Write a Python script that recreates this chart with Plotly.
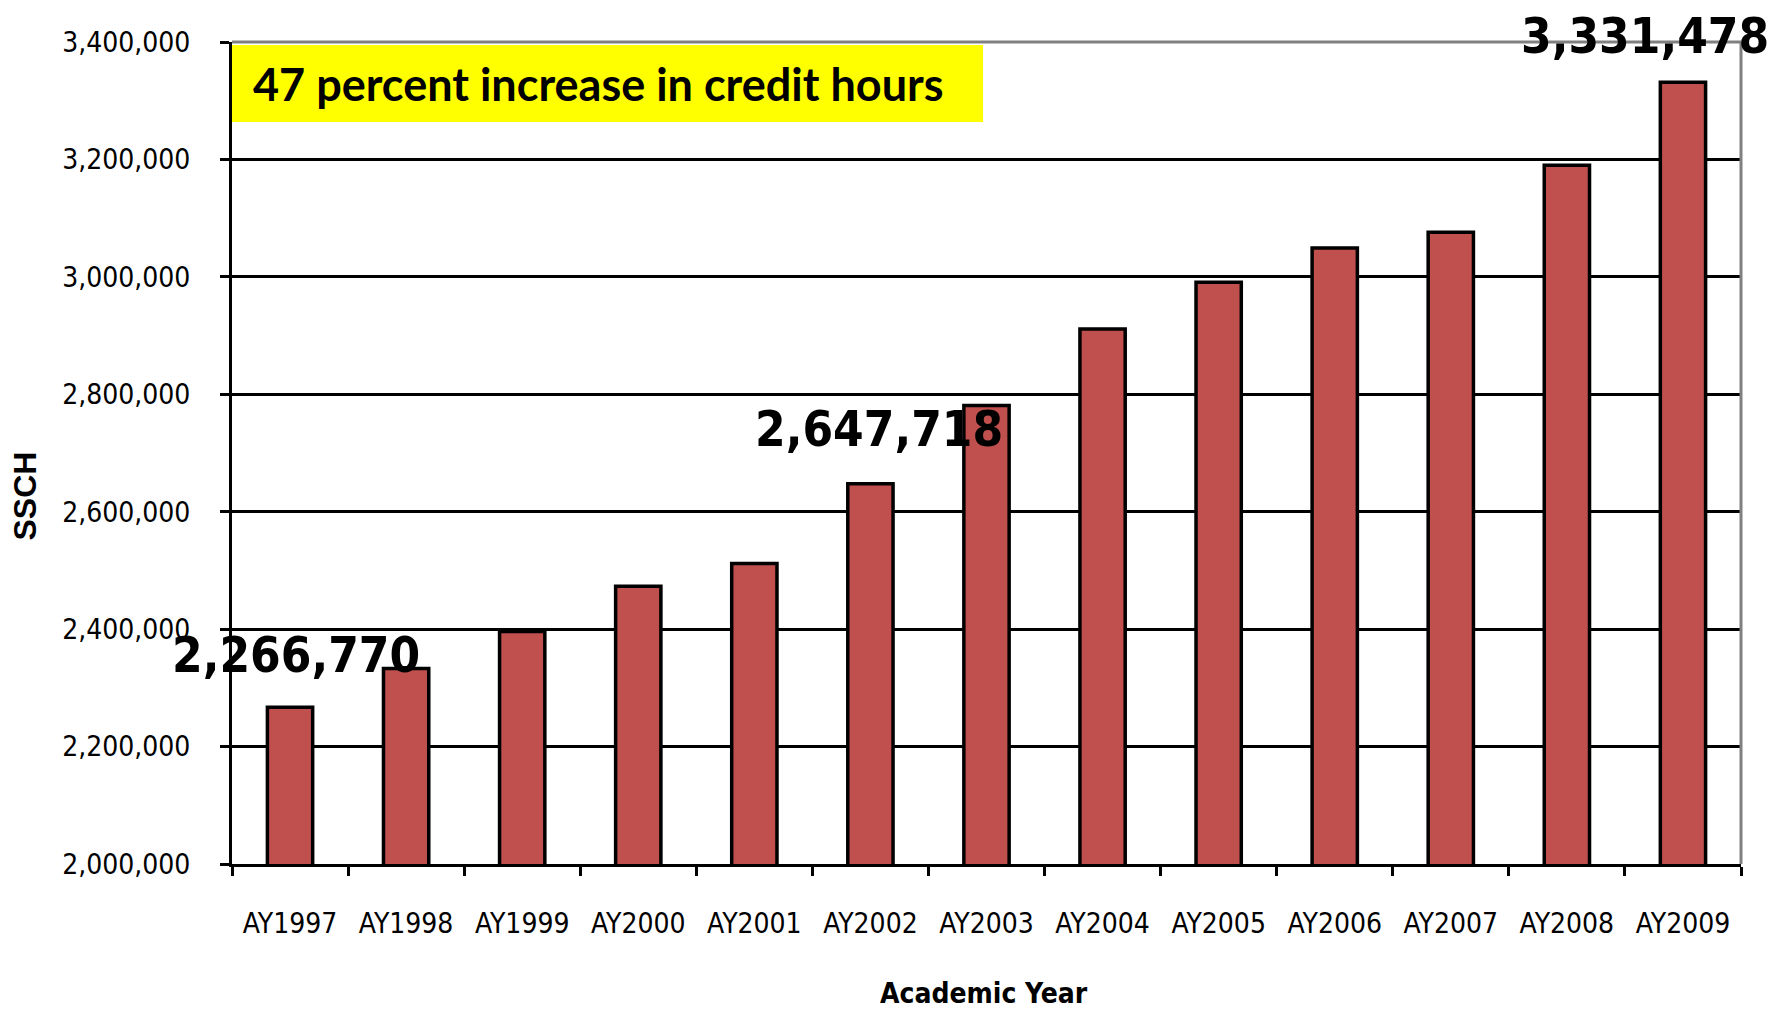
import plotly.graph_objects as go

years = ["AY1997", "AY1998", "AY1999", "AY2000", "AY2001", "AY2002", "AY2003",
         "AY2004", "AY2005", "AY2006", "AY2007", "AY2008", "AY2009"]
ssch = [2266770, 2333000, 2396000, 2473000, 2512000, 2647718, 2781000,
        2911000, 2991000, 3049000, 3076000, 3190000, 3331478]

# labelled bars: (index, xshift, yshift)
labelled = [(0, 6, 52), (5, 9, 54), (12, -38, 46)]

NARROW = "DejaVu Sans Condensed, Liberation Sans Narrow, Arial Narrow, sans-serif"

fig = go.Figure()
fig.add_trace(go.Bar(
    x=years, y=ssch,
    marker=dict(color="#C0504D", line=dict(color="black", width=3.5)),
    hoverinfo="x+y",
))

annotations = []
for i, xs, ys in labelled:
    annotations.append(dict(
        x=years[i], y=ssch[i], xref="x", yref="y",
        text=f"<b>{ssch[i]:,}</b>", showarrow=False,
        xanchor="center", yanchor="middle", xshift=xs, yshift=ys,
        font=dict(family=NARROW, size=49, color="black"),
    ))

annotations.append(dict(
    x=0.0126, y=0.949, xref="paper", yref="paper",
    text="<b>47 percent increase in credit hours</b>", showarrow=False,
    xanchor="left", yanchor="middle",
    font=dict(family="Lato, Carlito, Calibri, sans-serif", size=45, color="black"),
))
annotations.append(dict(
    x=-0.1375, y=0.4477, xref="paper", yref="paper",
    text="<b>SSCH</b>", showarrow=False, textangle=-90,
    xanchor="center", yanchor="middle",
    font=dict(family="Liberation Sans, Arial, sans-serif", size=32, color="black"),
))
annotations.append(dict(
    x=0.4983, y=-0.157, xref="paper", yref="paper",
    text="<b>Academic Year</b>", showarrow=False,
    xanchor="center", yanchor="middle",
    font=dict(family=NARROW, size=28, color="black"),
))

shapes = [
    dict(type="rect", xref="paper", yref="paper", x0=0.0, x1=0.4977,
         y0=0.9027, y1=0.9964, fillcolor="#FFFF00", line=dict(width=0), layer="below"),
    dict(type="line", xref="paper", yref="paper", x0=0, x1=1, y0=1, y1=1,
         line=dict(color="#808080", width=3), layer="above"),
    dict(type="line", xref="paper", yref="paper", x0=1, x1=1, y0=0, y1=1,
         line=dict(color="#808080", width=3), layer="above"),
    dict(type="line", xref="paper", yref="paper", x0=1.0219, x1=1.0219,
         y0=-0.2, y1=1.052, line=dict(color="#808080", width=1.5), layer="above"),
]

fig.update_layout(
    width=1775, height=1012,
    margin=dict(l=224, r=42, t=34, b=156, autoexpand=False),
    paper_bgcolor="white", plot_bgcolor="white",
    bargap=0.61, showlegend=False,
    annotations=annotations, shapes=shapes,
    xaxis=dict(
        type="category", range=[-0.5, 12.5], automargin=False,
        showgrid=False, showline=True, linecolor="black", linewidth=3,
        ticks="outside", tickson="boundaries", ticklen=9, tickwidth=3, tickcolor="black",
        tickangle=0,
        tickfont=dict(family=NARROW, size=28, color="black"),
        ticklabelstandoff=32,
    ),
    yaxis=dict(
        range=[2000000, 3400000], dtick=200000, tickformat=",d", automargin=False,
        showgrid=True, gridcolor="black", gridwidth=3, zeroline=False,
        showline=True, linecolor="black", linewidth=3,
        ticks="outside", ticklen=9, tickwidth=3, tickcolor="black",
        tickfont=dict(family=NARROW, size=28, color="black"),
        ticklabelstandoff=24,
    ),
)

fig.write_html("out.html")
